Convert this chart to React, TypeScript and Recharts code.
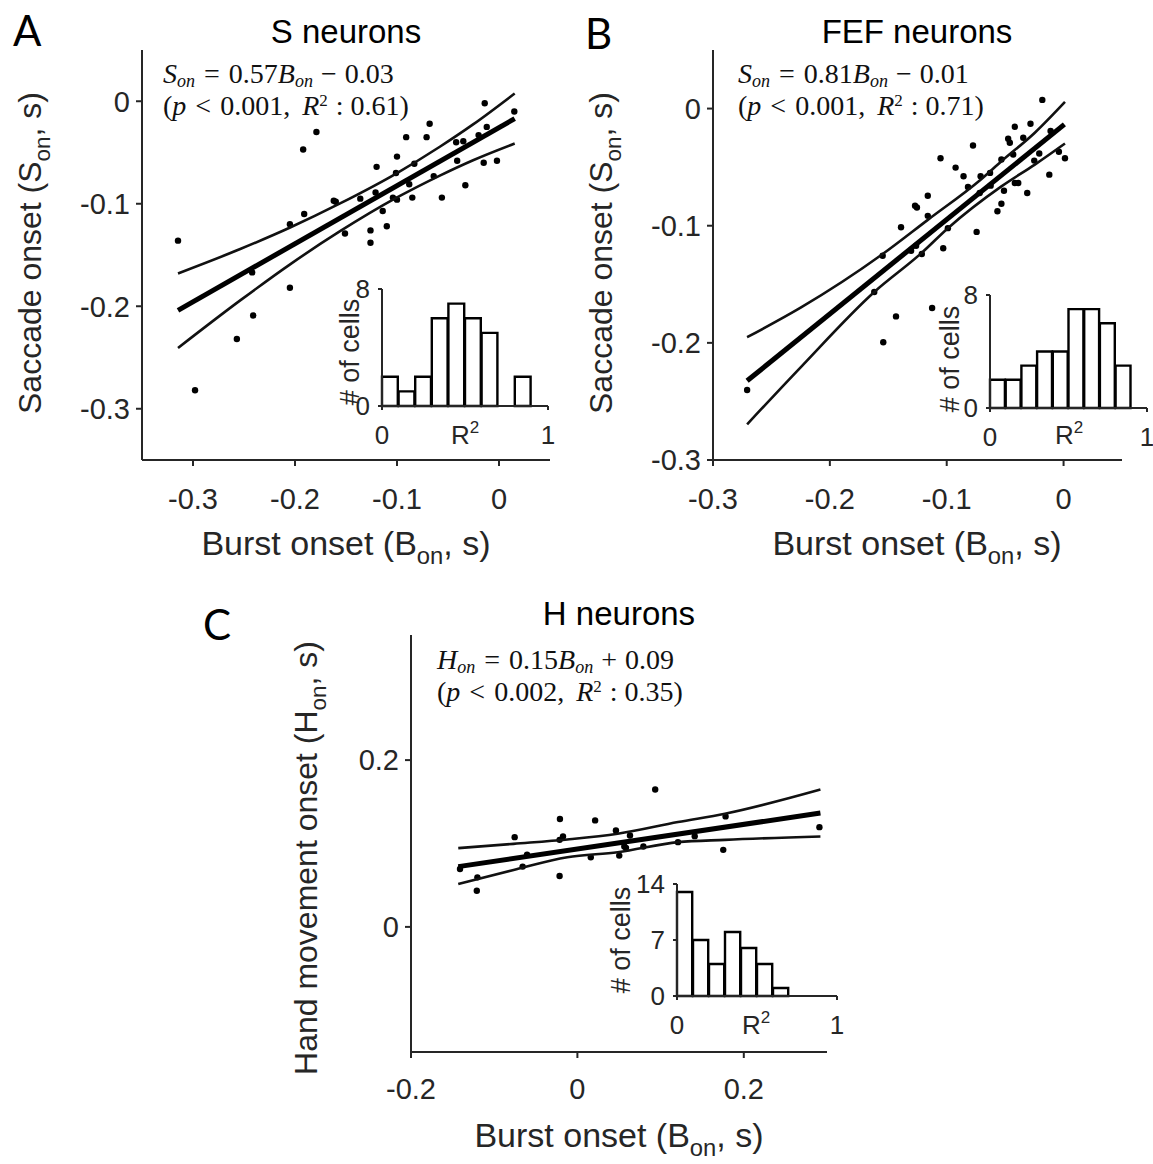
import React from "react";
import { ScatterChart, Scatter, XAxis, YAxis, BarChart, Bar } from "recharts";

const SANS = "'Liberation Sans', Arial, sans-serif";
const SERIF = "'Liberation Serif', 'Times New Roman', serif";
const LETTER = "'Lato', 'Open Sans', sans-serif";
const INK = "#111";
const AXIS = "#262626";

// ---- A: S neurons
const sBurst = [-0.3147, -0.298, -0.257, -0.241, -0.242, -0.205, -0.205, -0.191, -0.192, -0.179, -0.162, -0.16, -0.151, -0.136, -0.126, -0.126, -0.121, -0.12, -0.114, -0.11, -0.104, -0.1, -0.101, -0.1, -0.091, -0.088, -0.085, -0.083, -0.071, -0.068, -0.064, -0.056, -0.042, -0.035, -0.041, -0.033, -0.02, -0.012, -0.015, -0.002, -0.014, 0.015];
const sSaccade = [-0.136, -0.282, -0.232, -0.209, -0.167, -0.182, -0.12, -0.11, -0.047, -0.03, -0.097, -0.098, -0.129, -0.095, -0.126, -0.138, -0.089, -0.064, -0.107, -0.122, -0.094, -0.096, -0.07, -0.054, -0.035, -0.081, -0.094, -0.061, -0.035, -0.022, -0.073, -0.094, -0.04, -0.039, -0.058, -0.082, -0.033, -0.025, -0.06, -0.058, -0.002, -0.01];
const sFitX = [-0.3147, 0.0154];
const sFitY = [-0.204, -0.017];
const sBandX = [-0.3147, -0.2537, -0.2048, -0.1558, -0.1004, -0.058, -0.0254, 0.0154];
const sUpper = [-0.168, -0.1442, -0.1232, -0.0997, -0.0703, -0.0444, -0.0226, 0.0076];
const sLower = [-0.2407, -0.1943, -0.1591, -0.1268, -0.0941, -0.0725, -0.0575, -0.0412];
const sCells = [2, 1, 2, 6, 7, 6, 5, 0, 2, 0];

// ---- B: FEF neurons
const fBurst = [-0.2708, -0.162, -0.1543, -0.1548, -0.1434, -0.1391, -0.1305, -0.1262, -0.1271, -0.1255, -0.1162, -0.1162, -0.1213, -0.1125, -0.1053, -0.103, -0.099, -0.0924, -0.0856, -0.0818, -0.0775, -0.0744, -0.071, -0.0718, -0.0629, -0.0624, -0.0566, -0.0532, -0.0532, -0.051, -0.0474, -0.046, -0.0431, -0.0417, -0.0417, -0.0388, -0.0345, -0.0311, -0.0283, -0.0251, -0.0208, -0.0182, -0.0122, -0.0111, -0.004, 0.0012];
const fSaccade = [-0.2403, -0.1566, -0.1995, -0.1257, -0.1774, -0.1013, -0.1214, -0.1171, -0.083, -0.0845, -0.0744, -0.0916, -0.1242, -0.1703, -0.0424, -0.1193, -0.1021, -0.0504, -0.0578, -0.067, -0.0315, -0.1053, -0.0578, -0.0721, -0.0549, -0.0658, -0.0876, -0.0813, -0.0435, -0.0701, -0.0258, -0.0292, -0.0392, -0.0155, -0.0635, -0.0635, -0.0249, -0.0721, -0.0129, -0.0444, -0.0384, 0.0074, -0.0564, -0.0192, -0.0369, -0.0424];
const fFitX = [-0.2708, 0.0007];
const fFitY = [-0.2324, -0.0135];
const fUpperX = [-0.2708, -0.225, -0.1548, -0.1162, -0.071, -0.0532, -0.0246, 0.0012];
const fUpper = [-0.1952, -0.17, -0.1242, -0.095, -0.0607, -0.045, -0.0206, 0.0057];
const fLowerX = [-0.2708, -0.225, -0.162, -0.1219, -0.099, -0.0532, -0.0246, 0.0012];
const fLower = [-0.2695, -0.2209, -0.1566, -0.1236, -0.1021, -0.0664, -0.0478, -0.0298];
const fCells = [2, 2, 3, 4, 4, 7, 7, 6, 3, 0];

// ---- C: H neurons
const hBurst = [-0.1411, -0.1209, -0.1202, -0.0754, -0.0658, -0.0605, -0.021, -0.0173, -0.0214, -0.0214, 0.0161, 0.0213, 0.0463, 0.0503, 0.0564, 0.0632, 0.0584, 0.0793, 0.0935, 0.1209, 0.141, 0.1753, 0.1781, 0.2909];
const hHand = [0.0695, 0.0434, 0.0594, 0.1076, 0.0723, 0.0867, 0.1293, 0.1084, 0.1044, 0.0611, 0.0835, 0.1277, 0.1157, 0.0855, 0.0964, 0.1096, 0.0948, 0.0964, 0.1647, 0.1016, 0.1088, 0.0924, 0.1325, 0.1196];
const hFitX = [-0.1432, 0.2921];
const hFitY = [0.0723, 0.1365];
const hBandX = [-0.1432, -0.0767, -0.0121, 0.0484, 0.1209, 0.1773, 0.2921];
const hUpper = [0.0944, 0.0996, 0.1048, 0.1116, 0.1257, 0.1357, 0.1647];
const hLower = [0.0514, 0.0683, 0.0835, 0.0896, 0.1016, 0.1044, 0.1084];
const hCells = [13, 7, 4, 8, 6, 4, 1, 0, 0, 0];

const r2Bins = [0.05, 0.15, 0.25, 0.35, 0.45, 0.55, 0.65, 0.75, 0.85, 0.95];

const pts = (xs: number[], ys: number[]) => xs.map((x, i) => ({ x, y: ys[i] }));

const Dot = (p: any) => <circle cx={p.cx} cy={p.cy} r={3.2} fill="#000" />;
const NoDot = () => <g />;

type PanelProps = {
  left: number; top: number; width: number; height: number;
  yw: number; xh: number; xDomain: number[]; yDomain: number[];
  xTicks: number[]; yTicks: number[]; xTickGap: number;
  points: any[]; fit: any[]; upper: any[]; lower: any[];
};

const Panel = (p: PanelProps) => (
  <div style={{ position: "absolute", left: p.left, top: p.top }}>
    <ScatterChart width={p.width} height={p.height} margin={{ top: 50, right: 10, left: 0, bottom: 0 }}>
      <XAxis type="number" dataKey="x" domain={p.xDomain} ticks={p.xTicks} allowDataOverflow
        height={p.xh} tickSize={6} tickMargin={p.xTickGap}
        axisLine={{ stroke: AXIS, strokeWidth: 2 }} tickLine={{ stroke: AXIS, strokeWidth: 2 }}
        tick={{ fill: AXIS, fontSize: 29, fontFamily: SANS }} />
      <YAxis type="number" dataKey="y" domain={p.yDomain} ticks={p.yTicks} allowDataOverflow
        width={p.yw} tickSize={6} tickMargin={6}
        axisLine={{ stroke: AXIS, strokeWidth: 2 }} tickLine={{ stroke: AXIS, strokeWidth: 2 }}
        tick={{ fill: AXIS, fontSize: 29, fontFamily: SANS }} />
      <Scatter data={p.points} shape={Dot} isAnimationActive={false} />
      <Scatter data={p.upper} shape={NoDot} line={{ stroke: INK, strokeWidth: 2.6 }} lineJointType="monotoneX" isAnimationActive={false} />
      <Scatter data={p.lower} shape={NoDot} line={{ stroke: INK, strokeWidth: 2.6 }} lineJointType="monotoneX" isAnimationActive={false} />
      <Scatter data={p.fit} shape={NoDot} line={{ stroke: "#000", strokeWidth: 5 }} isAnimationActive={false} />
    </ScatterChart>
  </div>
);

type InsetProps = { left: number; top: number; width: number; height: number; xh: number; max: number; yTicks: number[]; cells: number[] };

const Inset = (p: InsetProps) => (
  <div style={{ position: "absolute", left: p.left, top: p.top }}>
    <BarChart width={p.width} height={p.height} data={r2Bins.map((b, i) => ({ r2: b, n: p.cells[i] }))}
      margin={{ top: 19, right: 10, left: 0, bottom: 0 }}>
      <XAxis type="number" dataKey="r2" domain={[0, 1]} ticks={[0, 1]} height={p.xh}
        tickSize={4} tickMargin={16}
        axisLine={{ stroke: AXIS, strokeWidth: 2 }} tickLine={{ stroke: AXIS, strokeWidth: 2 }}
        tick={{ fill: AXIS, fontSize: 26, fontFamily: SANS }} />
      <YAxis type="number" domain={[0, p.max]} ticks={p.yTicks} width={80}
        tickSize={4} tickMargin={8}
        axisLine={{ stroke: AXIS, strokeWidth: 2 }} tickLine={{ stroke: AXIS, strokeWidth: 2 }}
        tick={{ fill: AXIS, fontSize: 26, fontFamily: SANS }} />
      <Bar dataKey="n" fill="#fff" stroke="#000" strokeWidth={2.4} barSize={(p.width - 90) / 10 - 0.8} isAnimationActive={false} />
    </BarChart>
  </div>
);

const SubLabel = ({ x, y, pre, sub, post, rotate, size }: any) => (
  <text transform={`translate(${x},${y})${rotate ? " rotate(-90)" : ""}`} textAnchor="middle"
    fontFamily={SANS} fontSize={size} fill={AXIS}>
    {pre}
    <tspan dy={size * 0.27} fontSize={size * 0.7}>{sub}</tspan>
    <tspan dy={-size * 0.27}>{post}</tspan>
  </text>
);

const Equation = ({ x, y, lhs, slope, sign, icpt, p, r2 }: any) => (
  <g fontFamily={SERIF} fontSize={28} fill="#111">
    <text x={x} y={y}>
      <tspan fontStyle="italic">{lhs}</tspan>
      <tspan fontStyle="italic" fontSize={18} dy={4}>on</tspan>
      <tspan dy={-4} dx={9}>=</tspan>
      <tspan dx={9}>{slope}</tspan>
      <tspan fontStyle="italic">B</tspan>
      <tspan fontStyle="italic" fontSize={18} dy={4}>on</tspan>
      <tspan dy={-4} dx={8}>{sign}</tspan>
      <tspan dx={8}>{icpt}</tspan>
    </text>
    <text x={x} y={y + 32}>
      {"("}
      <tspan fontStyle="italic">p</tspan>
      <tspan dx={9}>{"<"}</tspan>
      <tspan dx={9}>{`${p},`}</tspan>
      <tspan dx={12} fontStyle="italic">R</tspan>
      <tspan fontSize={17} dy={-9}>2</tspan>
      <tspan dy={9} dx={8}>:</tspan>
      <tspan dx={7}>{`${r2})`}</tspan>
    </text>
  </g>
);

const R2 = ({ x, y }: any) => (
  <text x={x} y={y} textAnchor="middle" fontFamily={SANS} fontSize={26} fill={AXIS}>
    R<tspan fontSize={17} dy={-11}>2</tspan>
  </text>
);

const CellsLabel = ({ x, y }: any) => (
  <text transform={`translate(${x},${y}) rotate(-90)`} textAnchor="middle" dominantBaseline="central"
    fontFamily={SANS} fontSize={27} fill={AXIS}># of cells</text>
);

export default function App() {
  return (
    <div style={{ position: "absolute", left: 0, top: 0, width: 1153, height: 1164, background: "#fff" }}>
      <Panel left={0} top={0} width={560} height={560} yw={142} xh={100}
        xDomain={[-0.35, 0.05]} yDomain={[-0.35, 0.05]} xTicks={[-0.3, -0.2, -0.1, 0]} yTicks={[-0.3, -0.2, -0.1, 0]} xTickGap={22}
        points={pts(sBurst, sSaccade)} fit={pts(sFitX, sFitY)} upper={pts(sBandX, sUpper)} lower={pts(sBandX, sLower)} />
      <Panel left={570} top={0} width={562} height={560} yw={143} xh={100}
        xDomain={[-0.3, 0.05]} yDomain={[-0.3, 0.05]} xTicks={[-0.3, -0.2, -0.1, 0]} yTicks={[-0.3, -0.2, -0.1, 0]} xTickGap={22}
        points={pts(fBurst, fSaccade)} fit={pts(fFitX, fFitY)} upper={pts(fUpperX, fUpper)} lower={pts(fLowerX, fLower)} />
      <Panel left={270} top={585} width={567} height={567} yw={141} xh={100}
        xDomain={[-0.2, 0.3]} yDomain={[-0.15, 0.35]} xTicks={[-0.2, 0, 0.2]} yTicks={[0, 0.2]} xTickGap={20}
        points={pts(hBurst, hHand)} fit={pts(hFitX, hFitY)} upper={pts(hBandX, hUpper)} lower={pts(hBandX, hLower)} />

      <Inset left={302} top={270} width={256} height={200} xh={64} max={8} yTicks={[0, 8]} cells={sCells} />
      <Inset left={910} top={276} width={247} height={192} xh={60} max={8} yTicks={[0, 8]} cells={fCells} />
      <Inset left={597} top={865} width={250} height={191} xh={60} max={14} yTicks={[0, 7, 14]} cells={hCells} />

      <svg width={1153} height={1164} style={{ position: "absolute", left: 0, top: 0, pointerEvents: "none" }}>
        <g fontFamily={LETTER} fontSize={42} fill="#000">
          <text x={13} y={46}>A</text>
          <text x={585} y={49}>B</text>
          <text x={203} y={640}>C</text>
        </g>
        <g fontFamily={SANS} fontSize={33} fill="#000" textAnchor="middle">
          <text x={346} y={43}>S neurons</text>
          <text x={917} y={43}>FEF neurons</text>
          <text x={619} y={625}>H neurons</text>
        </g>
        <Equation x={163} y={83} lhs="S" slope="0.57" sign="−" icpt="0.03" p="0.001" r2="0.61" />
        <Equation x={738} y={83} lhs="S" slope="0.81" sign="−" icpt="0.01" p="0.001" r2="0.71" />
        <Equation x={437} y={669} lhs="H" slope="0.15" sign="+" icpt="0.09" p="0.002" r2="0.35" />

        <SubLabel x={41} y={253} size={32} pre="Saccade onset (S" sub="on" post=", s)" rotate />
        <SubLabel x={612} y={253} size={32} pre="Saccade onset (S" sub="on" post=", s)" rotate />
        <SubLabel x={317} y={858} size={32} pre="Hand movement onset (H" sub="on" post=", s)" rotate />
        <SubLabel x={346} y={555} size={34} pre="Burst onset (B" sub="on" post=", s)" />
        <SubLabel x={917} y={555} size={34} pre="Burst onset (B" sub="on" post=", s)" />
        <SubLabel x={619} y={1147} size={34} pre="Burst onset (B" sub="on" post=", s)" />

        <CellsLabel x={350} y={352} />
        <CellsLabel x={950} y={359} />
        <CellsLabel x={621} y={940} />
        <R2 x={465} y={444} />
        <R2 x={1069} y={444} />
        <R2 x={756} y={1034} />
      </svg>
    </div>
  );
}
